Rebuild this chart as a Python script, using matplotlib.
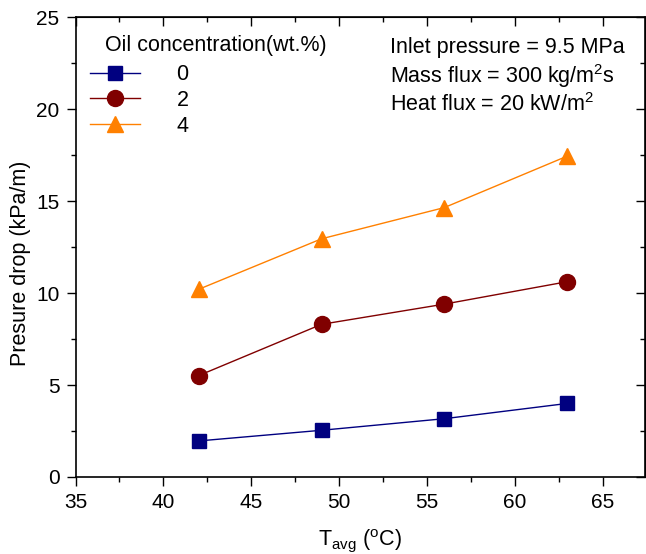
import numpy as np
import matplotlib
matplotlib.use('Agg')
import matplotlib.pyplot as plt
from matplotlib.ticker import MultipleLocator

plt.rcParams['font.family'] = ['Liberation Sans', 'DejaVu Sans']
plt.rcParams['mathtext.default'] = 'regular'

# Datos
temperatura = [42, 49, 56, 63]  # T avg (°C)
caida_0 = [1.96, 2.54, 3.17, 4.0]
caida_2 = [5.51, 8.30, 9.40, 10.62]
caida_4 = [10.2, 12.95, 14.65, 17.45]
etiquetas = ['0', '2', '4']

fig = plt.figure(figsize=(6.46, 5.54), dpi=100)
ax = fig.add_axes([0.117, 0.139, 0.881, 0.830])

ax.plot(temperatura, caida_0, color='#000080', lw=1.0, marker='s', ms=10,
        mec='#000080', label=etiquetas[0])
ax.plot(temperatura, caida_2, color='#800000', lw=1.0, marker='o', ms=11.5,
        mec='#800000', label=etiquetas[1])
ax.plot(temperatura, caida_4, color='#FF8000', lw=1.0, marker='^', ms=12,
        mec='#FF8000', label=etiquetas[2])

ax.set_xlim(35, 67.4)
ax.set_ylim(0, 25)
ax.xaxis.set_major_locator(MultipleLocator(5))
ax.xaxis.set_minor_locator(MultipleLocator(2.5))
ax.yaxis.set_major_locator(MultipleLocator(5))
ax.yaxis.set_minor_locator(MultipleLocator(2.5))

ax.tick_params(which='both', labelsize=15, width=1, pad=5)
ax.tick_params(which='major', length=6.5)
ax.tick_params(which='minor', length=3.5)
ax.tick_params(axis='both', which='both', direction='out')
# ticks de arriba y derecha hacia adentro
ax2 = ax.secondary_xaxis('top')
ax2.xaxis.set_major_locator(MultipleLocator(5))
ax2.xaxis.set_minor_locator(MultipleLocator(2.5))
ax2.tick_params(which='both', direction='in', labeltop=False, width=1)
ax2.tick_params(which='major', length=6.5)
ax2.tick_params(which='minor', length=3.5)
ax3 = ax.secondary_yaxis('right')
ax3.yaxis.set_major_locator(MultipleLocator(5))
ax3.yaxis.set_minor_locator(MultipleLocator(2.5))
ax3.tick_params(which='both', direction='in', labelright=False, width=1)
ax3.tick_params(which='major', length=6.5)
ax3.tick_params(which='minor', length=3.5)

for s in ax.spines.values():
    s.set_linewidth(1.2)

ax.set_xlabel(r'T$_{avg}$ ($^{o}$C)', fontsize=15.5)
ax.xaxis.set_label_coords(0.5, -0.109)
ax.set_ylabel('Presure drop (kPa/m)', fontsize=15.5)
ax.yaxis.set_label_coords(-0.079, 0.465)

leg = ax.legend(loc='upper left', bbox_to_anchor=(0.026, 0.898), frameon=False,
                fontsize=15.5, handlelength=2.3, handletextpad=1.7,
                labelspacing=0.22, borderaxespad=0, borderpad=0)
ax.text(0.051, 0.939, 'Oil concentration(wt.%)', transform=ax.transAxes,
        fontsize=15.5, va='center')

ax.text(0.552, 0.922, 'Inlet pressure = 9.5 MPa', transform=ax.transAxes,
        fontsize=15.5, va='baseline')
ax.text(0.552, 0.857, r'Mass flux = 300 kg/m$^2$s', transform=ax.transAxes,
        fontsize=15.5, va='baseline')
ax.text(0.552, 0.796, r'Heat flux = 20 kW/m$^2$', transform=ax.transAxes,
        fontsize=15.5, va='baseline')

fig.savefig('out.png', dpi=100)
